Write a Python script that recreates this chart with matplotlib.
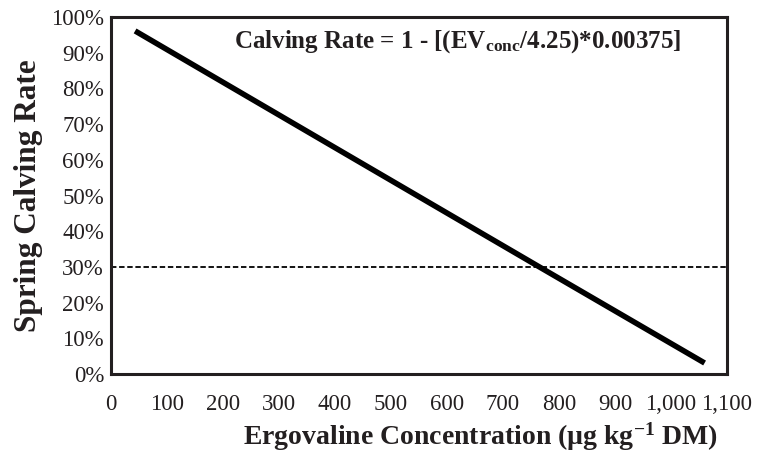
import matplotlib
matplotlib.use("Agg")
import matplotlib.pyplot as plt
from matplotlib.ticker import FuncFormatter

plt.rcParams["font.family"] = ["Liberation Serif", "DejaVu Serif"]
plt.rcParams["mathtext.fontset"] = "custom"
plt.rcParams["mathtext.rm"] = "Liberation Serif:bold"
plt.rcParams["mathtext.it"] = "Liberation Serif:bold"
plt.rcParams["mathtext.bf"] = "Liberation Serif:bold"

# data
ev_conc = [43, 400, 765, 1060]          # ergovaline, µg/kg DM
calving_rate = [0.961, 0.634, 0.300, 0.031]
threshold = 0.30

x_ticks = [0, 100, 200, 300, 400, 500, 600, 700, 800, 900, 1000, 1100]
y_ticks = [0.0, 0.1, 0.2, 0.3, 0.4, 0.5, 0.6, 0.7, 0.8, 0.9, 1.0]

INK = "#231f20"

fig = plt.figure(figsize=(7.63, 4.67), dpi=100)
ax = fig.add_axes([0.1455, 0.199, 0.8073, 0.7646])

ax.plot(ev_conc, calving_rate, color="black", lw=4.0, solid_capstyle="butt", zorder=3)
ax.axhline(threshold, color="black", lw=1.3, ls=(0, (3, 1.5)), zorder=2)

ax.set_xlim(0, 1100)
ax.set_ylim(0, 1)
ax.set_xticks(x_ticks)
ax.set_yticks(y_ticks)
ax.xaxis.set_major_formatter(FuncFormatter(lambda v, p: f"{int(v):,}"))
ax.yaxis.set_major_formatter(FuncFormatter(lambda v, p: f"{int(round(v * 100))}%"))
ax.tick_params(length=0, labelsize=16.5, colors=INK)
ax.tick_params(axis="y", pad=5)
ax.tick_params(axis="x", pad=14)

for s in ax.spines.values():
    s.set_linewidth(2.2)
    s.set_color(INK)

ax.set_xlabel(r"Ergovaline Concentration (µg kg$^{\mathregular{-1}}$ DM)",
              fontsize=20, fontweight="bold", labelpad=9, color=INK)
ax.xaxis.set_label_coords(0.60, -0.13)
ax.xaxis.label.set_va("top")
ax.set_ylabel("Spring Calving Rate", fontsize=22.5, fontweight="bold",
              labelpad=6, color=INK)

ax.text(0.562, 0.93, r"Calving Rate = 1 - [(EV$_{\mathregular{conc}}$/4.25)*0.00375]",
        transform=ax.transAxes, ha="center", va="center",
        fontsize=18, fontweight="bold", color=INK)

fig.savefig("out.png", dpi=100)
